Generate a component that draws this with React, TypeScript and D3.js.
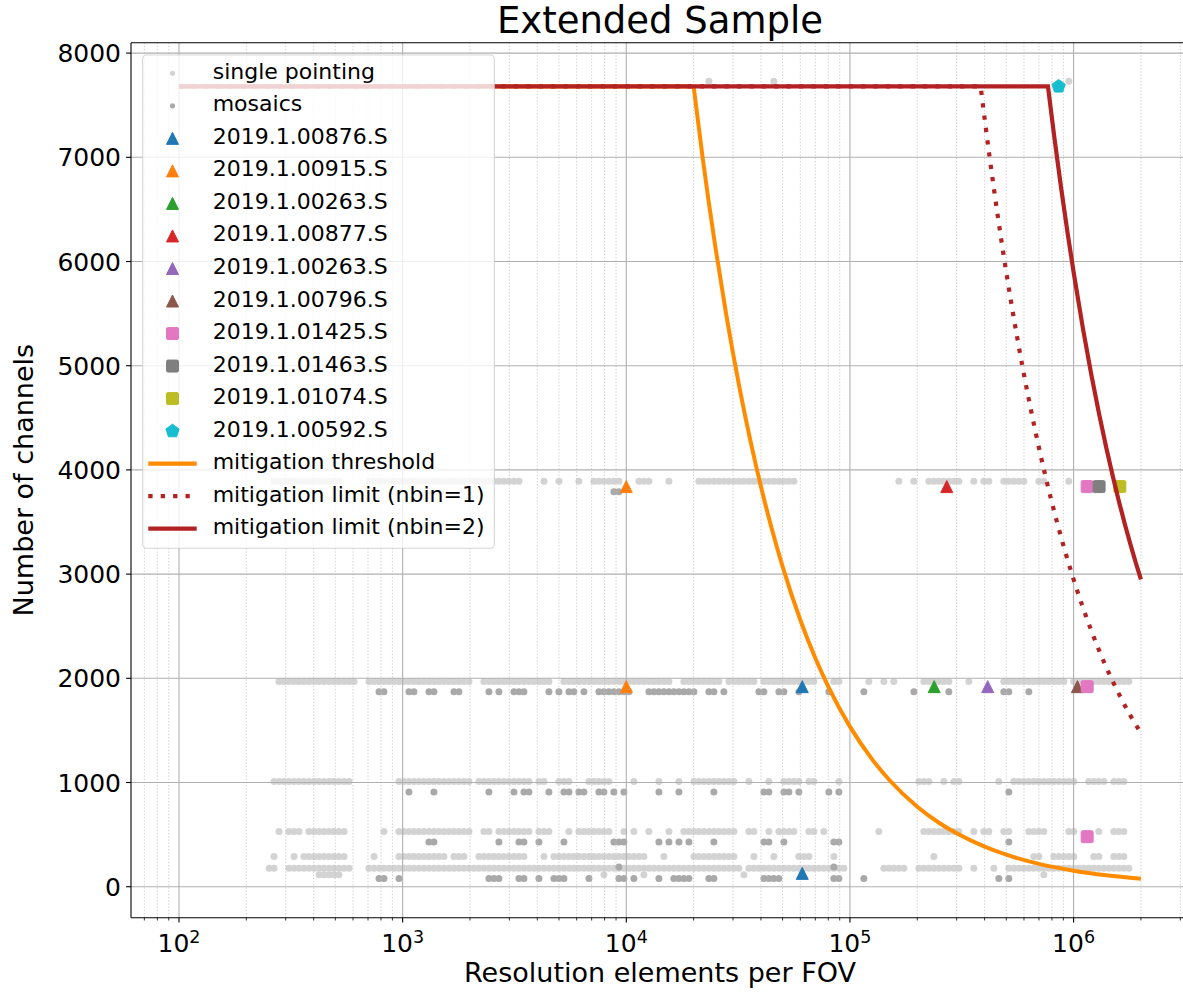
import React from "react";
import * as d3 from "d3";

// ---------- data ----------
const yTicks = [0, 1000, 2000, 3000, 4000, 5000, 6000, 7000, 8000];
const xTickExps = [2, 3, 4, 5, 6];

// single pointing (light grey), plotted channel values per row
const sp7730 = [23400, 45690, 952000];
const sp3890 = [266, 280, 295, 310, 327, 344, 362, 381, 402, 423, 445, 469, 493, 519,
  707, 745, 784, 825, 869, 915, 963, 1013, 1067, 1123, 1183, 1245, 1311, 1380, 1453, 1530, 1611, 1696, 1785, 1879, 1979, 2083, 2193, 2309, 2431, 2559, 2694, 2837, 2987, 3145, 3311,
  4283, 4997, 6139, 7164, 7543, 7941, 8360, 8802, 9267, 11390, 11990, 12620, 15510,
  21110, 22230, 23400, 24640, 25940, 27310, 28750, 30270, 31870, 33550, 35330, 37190, 39160, 41230, 43400, 45690, 48110, 50650, 53320, 56140,
  165400, 193100, 225300, 237200, 249700, 262900, 276800, 291400, 306800, 358000, 396800, 417800, 487600, 513300, 540400, 569000, 599000, 699000, 736000, 952000];
const sp1970 = [280, 295, 310, 327, 344, 362, 381, 402, 423, 445, 469, 493, 519, 547, 576, 606,
  707, 745, 784, 825, 869, 915, 963, 1013, 1067, 1123, 1183, 1245, 1311, 1380, 1453, 1530, 1611, 1696, 1785, 1879, 1979,
  2309, 2431, 2559, 2694, 2837, 2987, 3145, 3311, 3486, 3670, 3864, 4068, 4283, 4508,
  5261, 5539, 5831, 6139, 6464, 6805, 7164, 7543, 7941, 8360, 8802, 9267, 9756, 10270, 10810, 11390, 11990, 12620, 13290, 13990, 14730, 15510,
  18090, 19050, 20060, 21110, 22230, 23400, 24640, 25940, 28750, 30270, 31870, 33550, 35330, 37190,
  41230, 43400, 45690, 48110, 50650, 53320, 56140, 59100, 62230, 65510, 68970, 84730, 89210, 121500, 141800, 157100,
  214000, 225300, 237200, 249700, 262900, 276800, 340100,
  487600, 513300, 540400, 569000, 599000, 630700, 664000, 699000, 736000, 774900, 815800, 858900, 904200,
  1002000, 1055000, 1111000, 1169000, 1231000, 1296000, 1365000, 1437000, 1513000, 1593000, 1677000, 1766000];
const sp1010 = [266, 280, 295, 310, 327, 344, 362, 381, 402, 423, 445, 469, 493, 519, 547, 576,
  963, 1013, 1067, 1123, 1183, 1245, 1311, 1380, 1453, 1530, 1611, 1696, 1785, 1879, 1979,
  2193, 2309, 2431, 2559, 2694, 2837, 2987, 3145, 3311, 3486, 3670, 4068, 4283, 4997, 5261, 5539,
  6805, 7164, 7543, 7941, 8360, 10810, 13990, 17190,
  20060, 21110, 22230, 23400, 24640, 25940, 27310, 28750, 30270, 35330, 43400, 50650, 53320, 56140, 59100, 65510, 68970, 89210,
  203300, 214000, 225300, 262900, 291400, 306800, 463100,
  540400, 569000, 599000, 630700, 664000, 699000, 736000, 774900, 815800, 858900, 904200, 952000, 1002000,
  1169000, 1231000, 1296000, 1365000, 1513000, 1593000, 1677000];
const sp530 = [280, 310, 327, 344, 381, 402, 423, 445, 469, 493, 519, 547, 825,
  963, 1013, 1067, 1123, 1183, 1245, 1311, 1380, 1453, 1530, 1611, 1696, 1785, 1879, 1979,
  2309, 2431, 2694, 2837, 2987, 3145, 3311, 3486, 3670, 4068, 4283, 4508, 5539,
  6139, 6464, 6805, 7164, 7543, 7941, 8360, 9756, 10810, 12620, 15510,
  18090, 19050, 20060, 21110, 22230, 23400, 24640, 25940, 27310, 28750, 30270, 35330, 37190, 43400, 48110, 50650, 53320, 56140, 65510, 68970, 76450,
  134700, 214000, 225300, 237200, 249700, 262900, 276800, 291400, 306800, 358000, 396800, 417800, 487600, 513300,
  630700, 664000, 699000, 736000, 952000, 1002000, 1296000, 1513000, 1593000, 1677000];
const sp290 = [266, 327, 362, 381, 402, 423, 445, 469, 493, 519, 547, 745,
  963, 1013, 1067, 1123, 1183, 1245, 1311, 1380, 1453, 1530, 1696, 1785, 1879,
  2193, 2309, 2431, 2559, 2694, 2837, 2987, 3145, 3311, 3486, 4283,
  4746, 4997, 5261, 5539, 5831, 6139, 6464, 6805, 7164, 7543, 7941, 8360, 8802, 9267, 9756, 10270, 10810, 11390, 11990, 14730,
  20060, 21110, 22230, 23400, 24640, 25940, 27310, 28750, 30270, 37190, 45690, 59100, 62230, 65510, 84730, 237200,
  664000, 699000, 815800, 858900, 904200, 952000, 1002000, 1231000, 1296000, 1513000, 1593000, 1677000];
const sp178 = [253, 266, 310, 327, 344, 362, 381, 402, 423, 445, 469, 493, 519, 547, 576,
  707, 745, 784, 825, 869, 915, 963, 1013, 1067, 1123, 1183, 1245, 1311, 1380, 1453, 1530, 1611, 1696, 1785, 1879, 1979,
  2083, 2193, 2309, 2431, 2559, 2694, 2837, 2987, 3145, 3311, 3486, 3670, 3864, 4068, 4283, 4508, 4746, 4997, 5261, 5539,
  5831, 6139, 6464, 6805, 7164, 7543, 7941, 8360, 8802, 9267, 9756, 10270, 10810, 11390, 11990, 12620, 13290, 13990, 14730, 15510,
  16320, 17190, 18090, 19050, 20060, 21110, 22230, 23400, 24640, 25940, 27310, 28750, 30270, 31870,
  35330, 37190, 39160, 41230, 43400, 45690, 48110, 50650, 53320, 56140, 59100, 62230, 65510, 68970, 72610, 76450, 80480, 84730, 89210, 93920,
  141800, 149300, 157100, 165400, 174200, 203300, 214000, 225300, 237200, 249700, 262900, 276800, 291400, 306800, 358000, 439900,
  513300, 540400, 569000, 599000, 630700, 664000, 699000, 736000, 774900, 815800, 858900, 904200, 952000,
  1002000, 1055000, 1111000, 1169000, 1231000, 1296000, 1365000, 1437000, 1513000, 1593000, 1677000, 1766000];
const sp114 = [423, 445, 469, 493, 519, 7941, 11990, 33550, 736000];

// mosaics (darker grey)
const mo3790 = [8802, 9267];
const mo1870 = [784, 825, 1067, 1123, 1311, 1380, 1696, 1785, 2431, 2694, 3145, 3311, 3486, 4508, 4997, 5539, 5831, 6464, 7543, 7941, 8360, 8802, 9267, 9756, 10270,
  12620, 13290, 13990, 14730, 15510, 16320, 17190, 18090, 19050, 20060, 23400, 24640, 27310, 39160, 41230, 48110, 50650, 59100, 80480, 115400, 193100, 276800, 487600, 513300, 630700];
const mo910 = [1067, 1380, 2431, 3145, 3486, 3670, 4508, 5261, 5539, 6139, 6464, 7543, 7941, 8802, 9756, 13990, 17190, 24640, 41230, 43400, 50650, 53320, 59100, 80480, 89210, 513300];
const mo430 = [1311, 1380, 2694, 3311, 3486, 4068, 5261, 8802, 9267, 9756, 13990, 15510, 17190, 19050, 24640, 41230, 43400, 50650, 84730, 89210, 513300];
const mo190 = [9267, 84730];
const mo78 = [784, 825, 963, 2431, 2559, 2694, 3311, 3486, 4068, 4746, 4997, 5261, 6805, 9267, 9756, 10810, 13990, 16320, 17190, 18090, 19050, 23400, 24640,
  41230, 43400, 45690, 48110, 84730, 89210, 115400, 463100, 513300];

const singleRows: [number, number[]][] = [
  [7730, sp7730], [3890, sp3890], [1970, sp1970], [1010, sp1010], [530, sp530], [290, sp290], [178, sp178], [114, sp114],
];
const mosaicRows: [number, number[]][] = [
  [3790, mo3790], [1870, mo1870], [910, mo910], [430, mo430], [190, mo190], [78, mo78],
];

// projects
const projectNames = ["2019.1.00876.S", "2019.1.00915.S", "2019.1.00263.S", "2019.1.00877.S", "2019.1.00263.S",
  "2019.1.00796.S", "2019.1.01425.S", "2019.1.01463.S", "2019.1.01074.S", "2019.1.00592.S"];
const projectColors = ["#1f77b4", "#ff7f0e", "#2ca02c", "#d62728", "#9467bd", "#8c564b", "#e377c2", "#7f7f7f", "#bcbd22", "#17becf"];
const projectShapes = ["tri", "tri", "tri", "tri", "tri", "tri", "sq", "sq", "sq", "pent"];
const projectPoints: [number, number][][] = [
  [[61200, 1920], [61200, 128]],
  [[10000, 3840], [10000, 1920]],
  [[238000, 1920]],
  [[271000, 3840]],
  [[413000, 1920]],
  [[1040000, 1920]],
  [[1150000, 3840], [1150000, 1920], [1150000, 480]],
  [[1300000, 3840]],
  [[1610000, 3840]],
  [[857000, 7680]],
];

// lines
const thresholdFlat: [number, number][] = [[100, 7680], [20000, 7680]];
const thresholdCurve: [number, number][] = [[20000, 7680], [22000, 6980], [25000, 6144], [28000, 5486], [32000, 4800], [36000, 4267], [40000, 3840],
  [45000, 3413], [50000, 3072], [60000, 2560], [70000, 2194], [80000, 1920], [100000, 1536], [125000, 1229], [150000, 1024], [200000, 768],
  [250000, 614], [300000, 512], [400000, 384], [500000, 307], [700000, 219], [1000000, 154], [1400000, 110], [2000000, 77]];
const limit1Flat: [number, number][] = [[100, 7680], [384000, 7680]];
const limit1Curve: [number, number][] = [[384000, 7680], [420000, 7022], [460000, 6411], [500000, 5898], [560000, 5266], [630000, 4681], [700000, 4213],
  [800000, 3686], [900000, 3277], [1000000, 2949], [1200000, 2458], [1400000, 2106], [1600000, 1843], [1800000, 1638], [2000000, 1475]];
const limit2Flat: [number, number][] = [[100, 7680], [768000, 7680]];
const limit2Curve: [number, number][] = [[768000, 7680], [820000, 7193], [880000, 6702], [940000, 6274], [1000000, 5898], [1100000, 5362], [1200000, 4915],
  [1300000, 4537], [1400000, 4213], [1500000, 3932], [1600000, 3686], [1700000, 3469], [1800000, 3277], [1900000, 3104], [2000000, 2949]];

const lineLabels = ["mitigation threshold", "mitigation limit (nbin=1)", "mitigation limit (nbin=2)"];

// ---------- layout ----------
const W = 1183, H = 996;
const L = 131, R = 1189, T = 42.7, B = 917.7;
const FONT = "DejaVu Sans, sans-serif";
const LIGHT = "#d3d3d3", DARK = "#a9a9a9";
const ORANGE = "#ff8c00", FIRE = "#b22222";

function Marker({ shape, cx, cy, color, s = 12 }: { shape: string; cx: number; cy: number; color: string; s?: number }) {
  if (shape === "tri") {
    const h = s / 2;
    return <polygon points={`${cx},${cy - h} ${cx - h},${cy + h} ${cx + h},${cy + h}`} fill={color} stroke={color} strokeWidth={1} />;
  }
  if (shape === "sq") {
    return <rect x={cx - s / 2} y={cy - s / 2} width={s} height={s} rx={1.5} fill={color} stroke={color} strokeWidth={1} strokeLinejoin="round" />;
  }
  const r = s * 0.58;
  const pts = d3.range(5).map((k) => {
    const a = (-90 + 72 * k) * Math.PI / 180;
    return `${cx + r * Math.cos(a)},${cy + r * Math.sin(a)}`;
  }).join(" ");
  return <polygon points={pts} fill={color} stroke={color} strokeWidth={1} strokeLinejoin="round" />;
}

export default function App() {
  const x = d3.scaleLog().domain([10 ** 1.7854, 10 ** 6.516]).range([L, R]);
  const y = d3.scaleLinear().domain([-297.5, 8100]).range([B, T]);

  const curveGen = d3.line<[number, number]>().x((d) => x(d[0])).y((d) => y(d[1])).curve(d3.curveMonotoneX);
  const flatGen = d3.line<[number, number]>().x((d) => x(d[0])).y((d) => y(d[1]));
  const pathOf = (flat: [number, number][], curve: [number, number][]) =>
    (flatGen(flat) || "") + (curveGen(curve) || "").replace(/^M/, "L");

  const minorTicks: number[] = [];
  for (let e = 1; e <= 6; e++) {
    for (let m = 2; m <= 9; m++) {
      const v = m * 10 ** e;
      if (v > x.domain()[0] && v < x.domain()[1]) minorTicks.push(v);
    }
  }
  const majorTicks = xTickExps.map((e) => 10 ** e);

  const legendTop = 73.3, legendStep = 32.53;
  const lx = 172.5, ltx = 212.7;

  return (
    <div style={{ position: "absolute", left: 0, top: 0 }}>
      <svg width={W} height={H} style={{ display: "block", background: "#fff" }} fontFamily={FONT}>
        <defs>
          <clipPath id="plotclip">
            <rect x={L} y={T} width={R - L} height={B - T} />
          </clipPath>
        </defs>
        <rect x={0} y={0} width={W} height={H} fill="#fff" />

        <g clipPath="url(#plotclip)">
          {singleRows.map(([yy, xs], i) => (
            <g key={"s" + i}>
              {xs.map((v, j) => <circle key={j} cx={x(v)} cy={y(yy)} r={3.5} fill={LIGHT} />)}
            </g>
          ))}
          {mosaicRows.map(([yy, xs], i) => (
            <g key={"m" + i}>
              {xs.map((v, j) => <circle key={j} cx={x(v)} cy={y(yy)} r={3.5} fill={DARK} />)}
            </g>
          ))}

          {minorTicks.map((v, i) => (
            <line key={"mg" + i} x1={x(v)} x2={x(v)} y1={T} y2={B} stroke="#c4c4c4" strokeWidth={0.9} strokeDasharray="1.2 2" />
          ))}
          {majorTicks.map((v, i) => (
            <line key={"Mg" + i} x1={x(v)} x2={x(v)} y1={T} y2={B} stroke="#b0b0b0" strokeWidth={1.1} />
          ))}
          {yTicks.map((v, i) => (
            <line key={"yg" + i} x1={L} x2={R} y1={y(v)} y2={y(v)} stroke="#b0b0b0" strokeWidth={1.1} />
          ))}

          {projectPoints.map((pts, i) => (
            <g key={"p" + i}>
              {pts.map((p, j) => (
                <Marker key={j} shape={projectShapes[i]} cx={x(p[0])} cy={y(p[1])} color={projectColors[i]} s={12} />
              ))}
            </g>
          ))}

          <path d={pathOf(thresholdFlat, thresholdCurve)} fill="none" stroke={ORANGE} strokeWidth={4} />
          <path d={pathOf(limit1Flat, limit1Curve)} fill="none" stroke={FIRE} strokeWidth={4.2} strokeDasharray="4.3 8.1" />
          <path d={pathOf(limit2Flat, limit2Curve)} fill="none" stroke={FIRE} strokeWidth={4.2} />
        </g>

        <g stroke="#000" strokeWidth={1.1}>
          <line x1={L} x2={L} y1={T} y2={B} />
          <line x1={L} x2={R} y1={T} y2={T} />
          <line x1={L} x2={R} y1={B} y2={B} />
          <line x1={R} x2={R} y1={T} y2={B} />
        </g>

        {yTicks.map((v, i) => (
          <g key={"yt" + i}>
            <line x1={L - 4.9} x2={L} y1={y(v)} y2={y(v)} stroke="#000" strokeWidth={1.1} />
            <text x={L - 10} y={y(v) + 9} textAnchor="end" fontSize={25} fill="#000">{v}</text>
          </g>
        ))}

        {minorTicks.map((v, i) => (
          <line key={"xm" + i} x1={x(v)} x2={x(v)} y1={B} y2={B + 2.8} stroke="#000" strokeWidth={0.8} />
        ))}
        {xTickExps.map((e, i) => (
          <g key={"xt" + i}>
            <line x1={x(10 ** e)} x2={x(10 ** e)} y1={B} y2={B + 4.9} stroke="#000" strokeWidth={1.1} />
            <text x={x(10 ** e)} y={952} textAnchor="middle" fontSize={25} fill="#000">
              <tspan>10</tspan>
              <tspan dy={-9} fontSize={17.5}>{e}</tspan>
            </text>
          </g>
        ))}

        <text x={(L + R) / 2} y={33} textAnchor="middle" fontSize={37} fill="#000">Extended Sample</text>
        <text x={(L + R) / 2} y={982} textAnchor="middle" fontSize={27} fill="#000">Resolution elements per FOV</text>
        <text transform={`translate(33,${(T + B) / 2}) rotate(-90)`} textAnchor="middle" fontSize={27} fill="#000">Number of channels</text>

        <g>
          <rect x={142.7} y={55} width={351.6} height={493.3} rx={4} fill="#fff" fillOpacity={0.8} stroke="#cccccc" strokeOpacity={0.8} strokeWidth={1.1} />
          {[["single pointing", LIGHT], ["mosaics", DARK]].map(([lab, col], i) => {
            const cy = legendTop + i * legendStep;
            return (
              <g key={"lg" + i}>
                <circle cx={lx} cy={cy} r={2.6} fill={col} />
                <text x={ltx} y={cy + 5.5} fontSize={22} fill="#000">{lab}</text>
              </g>
            );
          })}
          {projectNames.map((name, i) => {
            const cy = legendTop + (i + 2) * legendStep;
            return (
              <g key={"lp" + i}>
                <Marker shape={projectShapes[i]} cx={lx} cy={cy} color={projectColors[i]} s={12} />
                <text x={ltx} y={cy + 5.5} fontSize={22} fill="#000">{name}</text>
              </g>
            );
          })}
          {lineLabels.map((lab, i) => {
            const cy = legendTop + (i + 12) * legendStep;
            const col = i === 0 ? ORANGE : FIRE;
            return (
              <g key={"ll" + i}>
                <line x1={148.3} x2={196.7} y1={cy} y2={cy} stroke={col} strokeWidth={4.2} strokeDasharray={i === 1 ? "4.3 8.1" : undefined} />
                <text x={ltx} y={cy + 5.5} fontSize={22} fill="#000">{lab}</text>
              </g>
            );
          })}
        </g>
      </svg>
    </div>
  );
}
